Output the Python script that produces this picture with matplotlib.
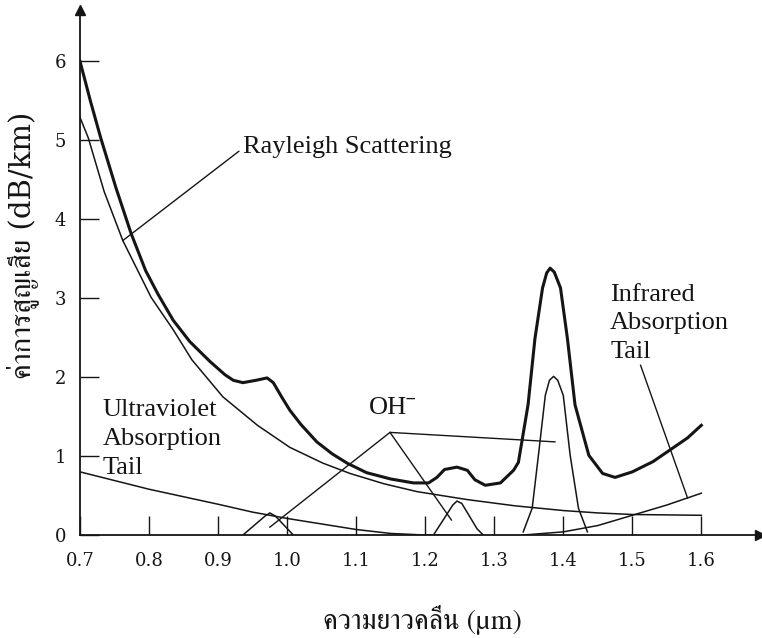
import matplotlib
matplotlib.use("Agg")
import matplotlib.pyplot as plt

plt.rcParams["font.family"] = ["DejaVu Serif", "FreeSerif"]

# total attenuation (thick curve)
total_wl = [0.700, 0.715, 0.730, 0.752, 0.774, 0.795, 0.813, 0.835, 0.859, 0.888,
            0.910, 0.922, 0.936, 0.955, 0.971, 0.980, 0.992, 1.004, 1.020, 1.043,
            1.065, 1.087, 1.115, 1.150, 1.183, 1.205, 1.217, 1.228, 1.246, 1.261,
            1.272, 1.287, 1.309, 1.328, 1.335, 1.349, 1.359, 1.370, 1.376, 1.381,
            1.387, 1.396, 1.406, 1.417, 1.437, 1.457, 1.475, 1.500, 1.530, 1.555,
            1.580, 1.600]
total_loss = [6.00, 5.50, 5.03, 4.40, 3.82, 3.35, 3.05, 2.72, 2.45, 2.20,
              2.03, 1.96, 1.93, 1.96, 1.99, 1.93, 1.75, 1.58, 1.40, 1.18,
              1.03, 0.91, 0.79, 0.71, 0.66, 0.66, 0.73, 0.83, 0.86, 0.82,
              0.70, 0.63, 0.66, 0.82, 0.92, 1.65, 2.49, 3.13, 3.32, 3.38,
              3.33, 3.13, 2.49, 1.65, 1.01, 0.78, 0.73, 0.80, 0.93, 1.08,
              1.23, 1.39]

# Rayleigh scattering
rayleigh_wl = [0.700, 0.712, 0.735, 0.762, 0.803, 0.835, 0.862, 0.907, 0.957, 1.004,
               1.052, 1.091, 1.140, 1.188, 1.260, 1.330, 1.400, 1.450, 1.500, 1.600]
rayleigh_loss = [5.29, 5.03, 4.35, 3.73, 3.01, 2.60, 2.22, 1.75, 1.39, 1.11,
                 0.91, 0.78, 0.65, 0.55, 0.45, 0.37, 0.31, 0.28, 0.26, 0.25]

# ultraviolet absorption tail
uv_wl = [0.70, 0.80, 0.90, 0.95, 1.00, 1.05, 1.10, 1.15, 1.20, 1.25]
uv_loss = [0.80, 0.58, 0.39, 0.29, 0.21, 0.14, 0.07, 0.02, 0.00, 0.00]

# infrared absorption tail
ir_wl = [1.342, 1.40, 1.45, 1.50, 1.55, 1.60]
ir_loss = [0.00, 0.04, 0.12, 0.25, 0.38, 0.53]

# OH- absorption peaks
oh1_wl = [0.936, 0.968, 0.975, 0.983, 1.009]
oh1_loss = [0.00, 0.24, 0.28, 0.24, 0.00]
oh2_wl = [1.212, 1.240, 1.246, 1.253, 1.262, 1.275, 1.284]
oh2_loss = [0.00, 0.38, 0.43, 0.40, 0.27, 0.08, 0.00]
oh3_wl = [1.342, 1.355, 1.364, 1.374, 1.380, 1.386, 1.392, 1.400, 1.410, 1.422, 1.435]
oh3_loss = [0.04, 0.34, 1.01, 1.77, 1.96, 2.01, 1.96, 1.77, 1.01, 0.34, 0.04]

x_ticks = [0.7, 0.8, 0.9, 1.0, 1.1, 1.2, 1.3, 1.4, 1.5, 1.6]
x_tick_labels = ["0.7", "0.8", "0.9", "1.0", "1.1", "1.2", "1.3", "1.4", "1.5", "1.6"]
y_ticks = [0, 1, 2, 3, 4, 5, 6]

ink = "#151515"
serif = ["Liberation Serif", "FreeSerif"]

fig = plt.figure(figsize=(7.62, 6.38), dpi=100)
ax = fig.add_axes([0.105, 0.1614, 0.8924, 0.8229])

ax.plot(total_wl, total_loss, color=ink, lw=2.2, solid_joinstyle="round")
for xs, ys in [(rayleigh_wl, rayleigh_loss), (uv_wl, uv_loss), (ir_wl, ir_loss),
               (oh1_wl, oh1_loss), (oh2_wl, oh2_loss), (oh3_wl, oh3_loss)]:
    ax.plot(xs, ys, color=ink, lw=1.1, solid_joinstyle="round")

# leader lines
ax.plot([0.762, 0.930], [3.73, 4.86], color=ink, lw=1.0)
ax.plot([0.975, 1.149, 1.388], [0.10, 1.30, 1.18], color=ink, lw=1.0)
ax.plot([1.149, 1.238], [1.30, 0.19], color=ink, lw=1.0)
ax.plot([1.512, 1.580], [2.15, 0.47], color=ink, lw=1.0)

ax.text(0.936, 4.91, "Rayleigh Scattering", family=serif, fontsize=19,
        ha="left", va="center", color=ink)
ax.text(0.733, 1.215, "Ultraviolet\nAbsorption\nTail", family=serif, fontsize=19,
        ha="left", va="center", color=ink, linespacing=1.4)
ax.text(1.468, 2.68, "Infrared\nAbsorption\nTail", family=serif, fontsize=19,
        ha="left", va="center", color=ink, linespacing=1.4)
ax.text(1.152, 1.61, "OH⁻", family=serif, fontsize=19,
        ha="center", va="center", color=ink)

ax.set_xlim(0.7, 1.685)
ax.set_ylim(0, 6.65)
ax.set_xticks(x_ticks)
ax.set_xticklabels(x_tick_labels)
ax.set_yticks(y_ticks)
ax.tick_params(direction="in", length=14, width=1.0, color=ink, labelcolor=ink,
               labelsize=13)
ax.tick_params(axis="x", pad=12)
ax.tick_params(axis="y", pad=10)

ax.spines["top"].set_visible(False)
ax.spines["right"].set_visible(False)
for side in ["left", "bottom"]:
    ax.spines[side].set_linewidth(1.3)
    ax.spines[side].set_color(ink)
ax.plot(1, 0, ">", color=ink, ms=7, transform=ax.get_yaxis_transform(), clip_on=False)
ax.plot(0.7, 1, "^", color=ink, ms=7, transform=ax.get_xaxis_transform(), clip_on=False)

fig.text(0.555, 0.028, "ความยาวคลื่น (µm)", family=["FreeSerif"], fontsize=20,
         ha="center", va="center", color=ink)
fig.text(0.029, 0.616, "ค่าการสูญเสีย (dB/km)", fontsize=21,
         ha="center", va="center", rotation=90, color=ink)

fig.savefig("out.png", dpi=100, facecolor="white")
